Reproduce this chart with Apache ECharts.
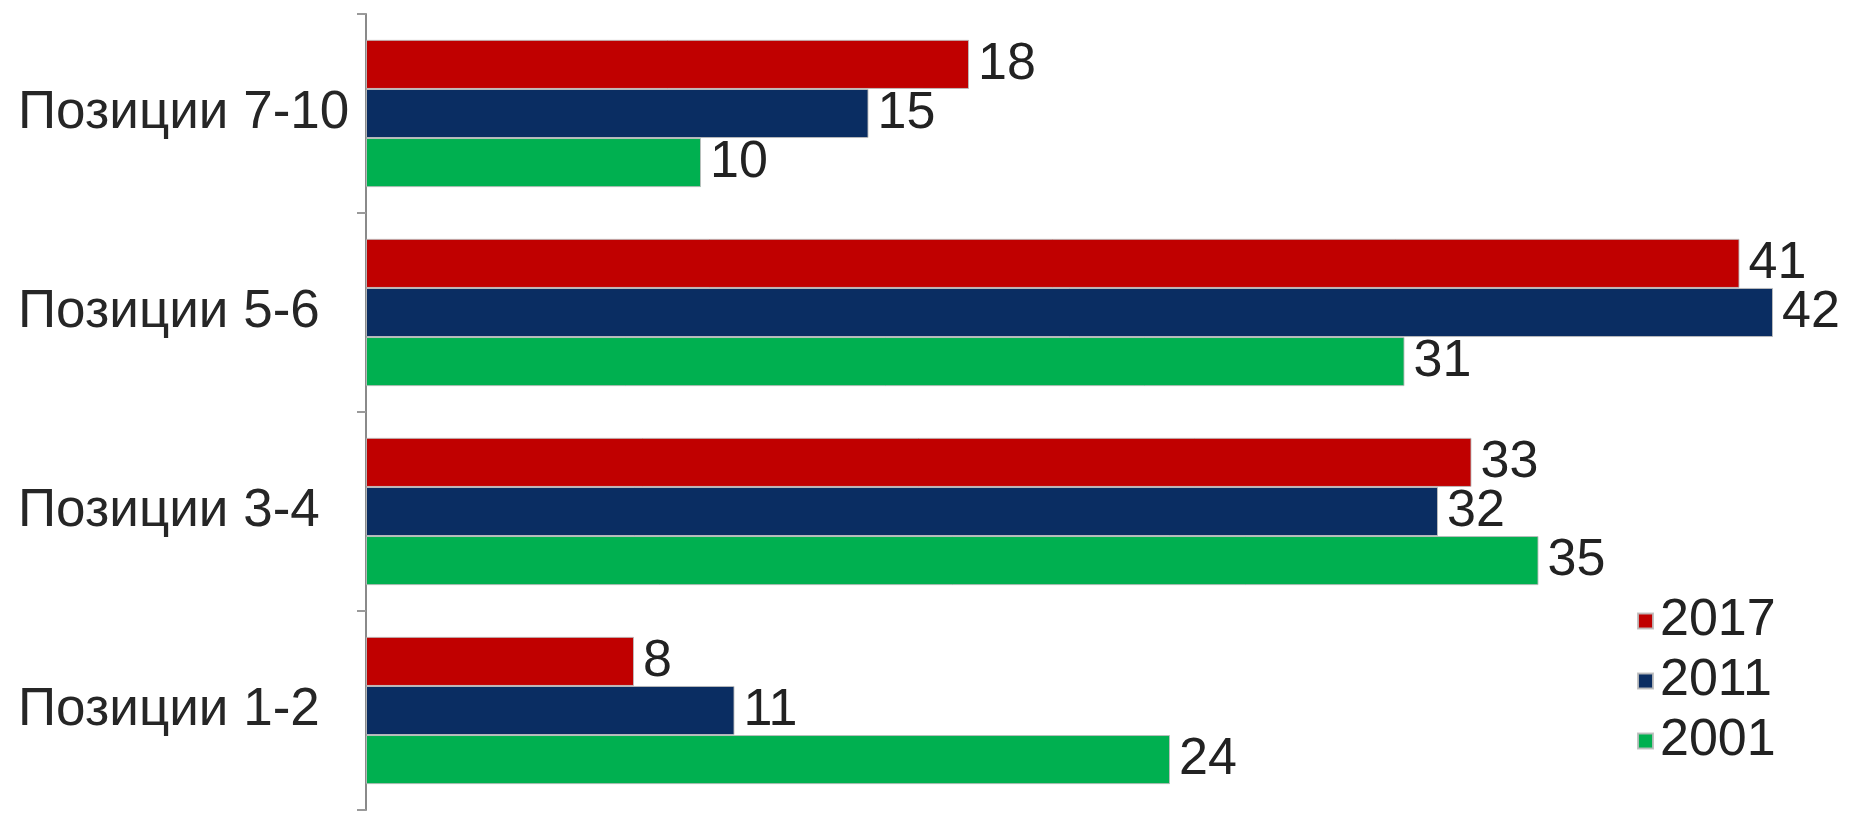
<!DOCTYPE html>
<html><head><meta charset="utf-8">
<script src="https://cdn.jsdelivr.net/npm/echarts@6/dist/echarts.min.js"></script>
<style>html,body{margin:0;padding:0;background:#fff}#c{width:1850px;height:815px}</style>
</head><body><div id="c"></div>
<script>
const categories = ['Позиции 1-2', 'Позиции 3-4', 'Позиции 5-6', 'Позиции 7-10'];
const years = ['2017', '2011', '2001'];
const v2017 = [8, 33, 41, 18];
const v2011 = [11, 32, 42, 15];
const v2001 = [24, 35, 31, 10];
const colors = { '2017': '#C00000', '2011': '#0A2D62', '2001': '#00B050' };

const font = 'Liberation Sans, Arial, sans-serif';
function mk(name, data) {
  return {
    name, type: 'bar', data, barGap: '0%', barCategoryGap: '26%',
    itemStyle: { color: colors[name], borderColor: 'rgba(190,190,190,0.9)', borderWidth: 1 },
    label: { show: true, position: 'right', distance: 9, color: '#222', fontSize: 52, fontFamily: font },
    emphasis: { disabled: true }
  };
}
const chart = echarts.init(document.getElementById('c'));
chart.setOption({
  animation: false,
  grid: { left: 366, right: 10, top: 14, bottom: 5, containLabel: false },
  xAxis: { type: 'value', min: 0, max: 44, show: false },
  yAxis: {
    type: 'category', data: categories,
    axisLine: { lineStyle: { color: '#8a8a8a', width: 2 } },
    axisTick: { show: true, length: 9, lineStyle: { color: '#9a9a9a', width: 2 } },
    axisLabel: { fontSize: 53, fontFamily: font, color: '#262626', margin: 348, align: 'left' }
  },
  legend: {
    data: years, orient: 'vertical', left: 1632, top: 588, itemWidth: 15, itemHeight: 15,
    itemGap: 4, icon: 'rect',
    textStyle: { fontSize: 52, lineHeight: 56, fontFamily: font, color: '#222', padding: [0, 0, 0, 2] }
  },
  series: [mk('2017', v2017), mk('2011', v2011), mk('2001', v2001)]
});
</script></body></html>
